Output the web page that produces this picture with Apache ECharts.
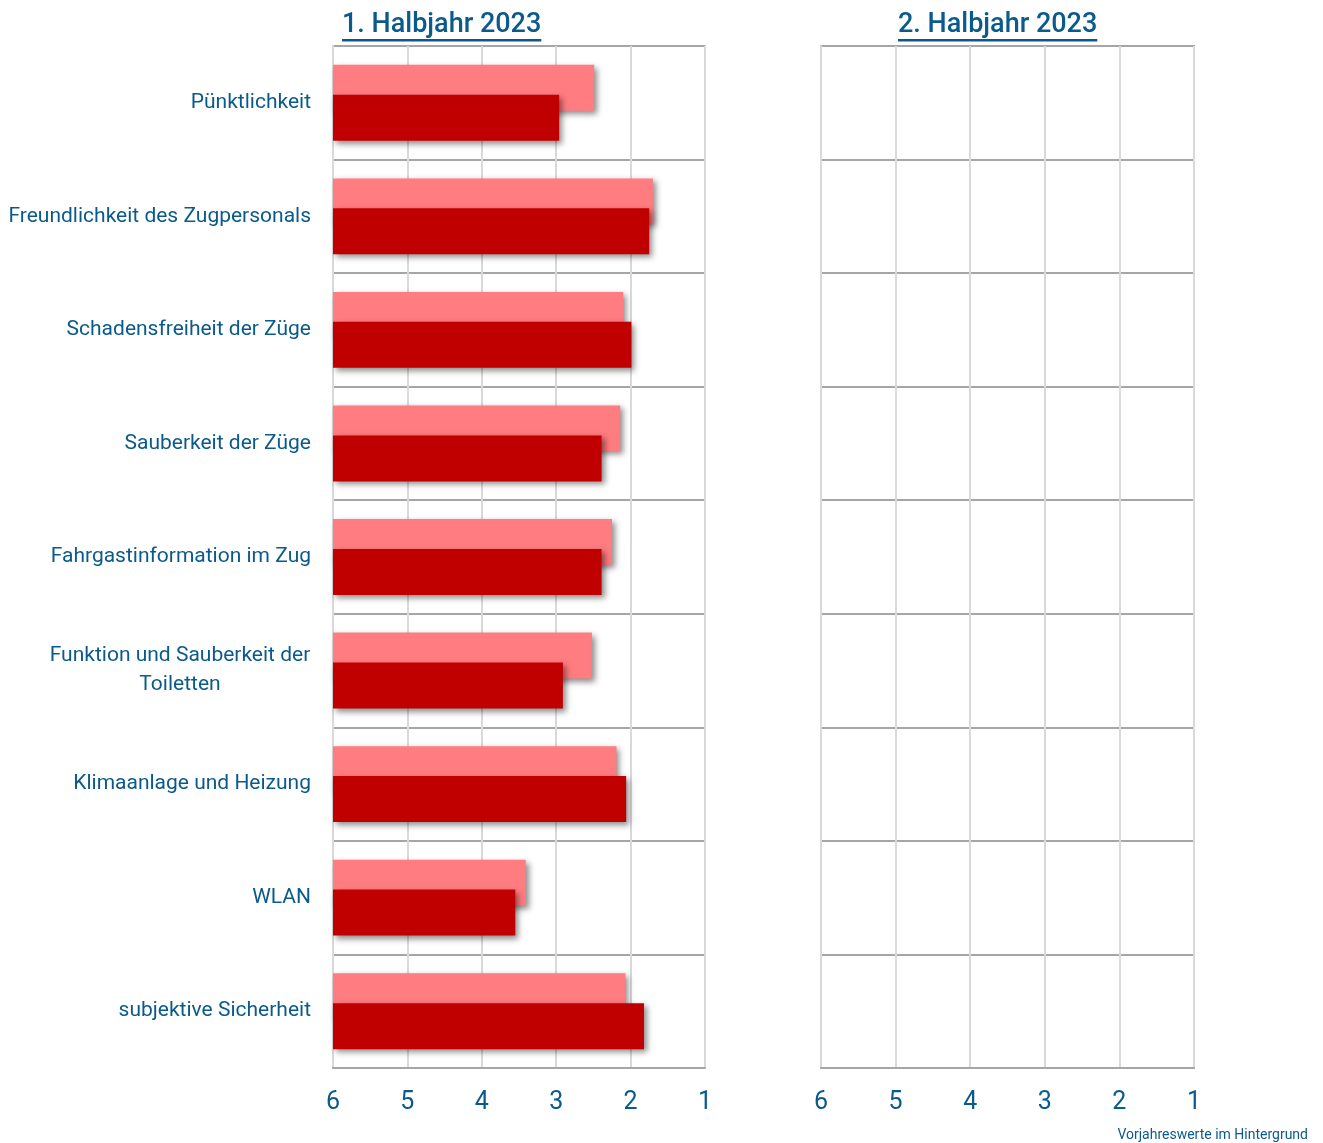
<!DOCTYPE html>
<html>
<head>
<meta charset="utf-8">
<script src="https://cdn.jsdelivr.net/npm/echarts@6/dist/echarts.min.js"></script>
<style>
  html, body { margin: 0; padding: 0; background: #ffffff; }
  #chart { width: 1323px; height: 1143px; }
</style>
</head>
<body>
<div id="chart"></div>
<script>
// ---- data ----
const categories = [
  'Pünktlichkeit',
  'Freundlichkeit des Zugpersonals',
  'Schadensfreiheit der Züge',
  'Sauberkeit der Züge',
  'Fahrgastinformation im Zug',
  'Funktion und Sauberkeit der\nToiletten',
  'Klimaanlage und Heizung',
  'WLAN',
  'subjektive Sicherheit'
];
const previousYear = [2.49, 1.70, 2.10, 2.14, 2.25, 2.52, 2.19, 3.41, 2.07];
const firstHalf2023 = [2.96, 1.75, 1.99, 2.39, 2.39, 2.91, 2.06, 3.55, 1.82];
const secondHalf2023 = [];
const tickLabels = ['6', '5', '4', '3', '2', '1'];
const panelTitles = ['1. Halbjahr 2023', '2. Halbjahr 2023'];
const footnote = 'Vorjahreswerte im Hintergrund';

// grades are drawn from the worst grade (6) on the left toward 1 on the right
const worst = 6;
const toAxis = v => worst - v;

const BLUE = '#0a5a8c';
const FONT = 'Roboto';
const LABEL_SIZE = 21;

function measure(text, size, weight) {
  const c = document.createElement('canvas').getContext('2d');
  c.font = weight + ' ' + size + 'px ' + FONT;
  return c.measureText(text).width;
}

// multi-line labels: lines centred on each other, block right-aligned
const multiWidth = Math.ceil(Math.max(...categories.filter(c => c.includes('\n'))
  .flatMap(c => c.split('\n')).map(l => measure(l, LABEL_SIZE, 'normal'))), 0) + 1;
function labelFormatter(v) {
  if (v.indexOf('\n') < 0) return v;
  return v.split('\n').map(l => '{c|' + l + '}').join('\n');
}

const chart = echarts.init(document.getElementById('chart'), null, { renderer: 'canvas' });

const barShadow = {
  shadowBlur: 6,
  shadowColor: 'rgba(0,0,0,0.45)',
  shadowOffsetX: 3,
  shadowOffsetY: 3
};

function xAxisFor(gridIndex) {
  return {
    type: 'value',
    gridIndex: gridIndex,
    min: 0,
    max: 5,
    interval: 1,
    axisLine: { show: true, lineStyle: { color: '#a6a6a6', width: 2 } },
    axisTick: { show: false },
    axisLabel: {
      color: BLUE, fontFamily: FONT, fontSize: 25, margin: 22,
      formatter: v => tickLabels[v]
    },
    splitLine: { show: true, lineStyle: { color: '#d9d9d9', width: 2 } }
  };
}
function yAxisFor(gridIndex, showLabels) {
  return {
    type: 'category',
    gridIndex: gridIndex,
    inverse: true,
    data: categories,
    axisLine: { show: true, lineStyle: { color: '#d9d9d9', width: 2 } },
    axisTick: { show: false },
    axisLabel: {
      show: showLabels, color: BLUE, fontFamily: FONT, fontSize: LABEL_SIZE,
      margin: 22, lineHeight: 29, align: 'right',
      formatter: labelFormatter,
      rich: {
        c: {
          width: multiWidth, align: 'center', color: BLUE,
          fontFamily: FONT, fontSize: LABEL_SIZE, lineHeight: 29
        }
      }
    },
    splitLine: { show: true, lineStyle: { color: '#a6a6a6', width: 2 } }
  };
}

const titleSize = 27;
const titleElems = [];
[[342, panelTitles[0]], [898, panelTitles[1]]].forEach(([x, t]) => {
  const w = measure(t, titleSize, 500);
  titleElems.push({
    type: 'text', left: x, top: 12,
    style: { text: t, fill: BLUE, font: '500 ' + titleSize + 'px ' + FONT }
  });
  titleElems.push({
    type: 'rect', left: x, top: 39,
    shape: { width: w, height: 2.5 },
    style: { fill: BLUE }
  });
});
titleElems.push({
  type: 'text', right: 15, top: 1128,
  style: { text: footnote, fill: BLUE, font: '14px ' + FONT }
});

chart.setOption({
  backgroundColor: '#ffffff',
  animation: false,
  grid: [
    { left: 333, right: 618, top: 46, bottom: 75, show: true, borderColor: '#d9d9d9', borderWidth: 2 },
    { left: 821, right: 129, top: 46, bottom: 75, show: true, borderColor: '#a6a6a6', borderWidth: 2 }
  ],
  xAxis: [xAxisFor(0), xAxisFor(1)],
  yAxis: [yAxisFor(0, true), yAxisFor(1, false)],
  graphic: titleElems,
  series: [
    {
      name: 'Vorjahr',
      type: 'bar',
      xAxisIndex: 0, yAxisIndex: 0,
      data: previousYear.map(toAxis),
      barWidth: 46,
      barGap: '-35%',
      itemStyle: Object.assign({ color: '#ff7c80' }, barShadow),
      z: 2
    },
    {
      name: '1. Halbjahr 2023',
      type: 'bar',
      xAxisIndex: 0, yAxisIndex: 0,
      data: firstHalf2023.map(toAxis),
      barWidth: 46,
      barGap: '-35%',
      itemStyle: Object.assign({ color: '#c00000' }, barShadow),
      z: 3
    },
    {
      name: '2. Halbjahr 2023',
      type: 'bar',
      xAxisIndex: 1, yAxisIndex: 1,
      data: secondHalf2023.map(toAxis),
      barWidth: 46,
      itemStyle: Object.assign({ color: '#c00000' }, barShadow)
    }
  ]
});
</script>
</body>
</html>
